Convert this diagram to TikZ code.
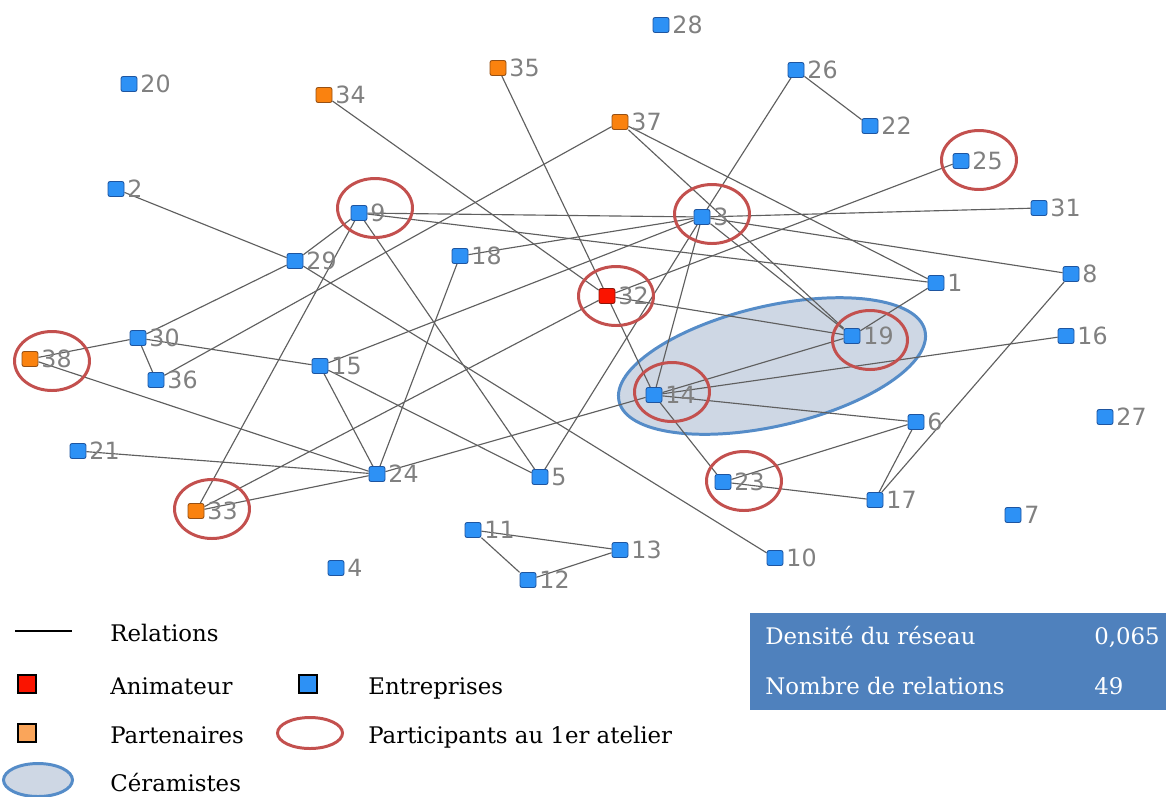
\documentclass[tikz,border=0pt]{standalone}
\usepackage{fontspec}
\setmainfont{DejaVu Serif}
\newfontfamily\numfont{DejaVu Sans}
\usepackage{tikz}
\usetikzlibrary{shapes.geometric,positioning}
\definecolor{firmblue}{RGB}{45,145,245}
\definecolor{firmedge}{RGB}{30,85,160}
\definecolor{partorange}{RGB}{250,130,15}
\definecolor{partedge}{RGB}{150,80,20}
\definecolor{animred}{RGB}{250,20,0}
\definecolor{animedge}{RGB}{140,20,10}
\definecolor{keyorange}{RGB}{250,165,90}
\definecolor{numgray}{RGB}{128,128,128}
\definecolor{relgray}{RGB}{95,95,95}
\definecolor{ringred}{RGB}{195,80,78}
\definecolor{ceramedge}{RGB}{85,140,200}
\definecolor{ceramfill}{RGB}{206,215,228}
\definecolor{statblue}{RGB}{79,129,189}
\pgfdeclarelayer{background}
\pgfsetlayers{background,main}
\tikzset{%
	firm/.style     = {draw=firmedge, fill=firmblue, rectangle, rounded corners=1.2pt, minimum width=0.32cm, minimum height=0.3cm, inner sep=0pt, line width=0.5pt}, % Entreprise
	partner/.style  = {firm, fill=partorange, draw=partedge}, % Partenaire
	animator/.style = {firm, fill=animred, draw=animedge}, % Animateur
	num/.style      = {font=\numfont\fontsize{13.5}{13.5}\selectfont, text=numgray, inner sep=1.5pt},
	rel/.style      = {draw=relgray, line width=0.65pt}, % Relation
	ring/.style     = {draw=ringred, ellipse, line width=1.7pt, minimum width=1.5cm, minimum height=1.18cm},
	ceram/.style    = {draw=ceramedge, fill=ceramfill, ellipse, line width=1.7pt, minimum width=6.28cm, minimum height=2.4cm},
	keybox/.style   = {draw=black, rectangle, minimum size=0.36cm, inner sep=0pt, line width=0.7pt},
	legtext/.style  = {anchor=base west, inner sep=0pt, font=\fontsize{13}{15}\selectfont},
	stattext/.style = {legtext, text=white},
}

\begin{document}
\begin{tikzpicture}[x=0.02cm, y=-0.02cm]
	\useasboundingbox (0,0) rectangle (1166,796);
	
	\begin{pgfonlayer}{background}
		\node[ceram, rotate=13] (cer) at (772,366) {};
	\end{pgfonlayer}
	
	% acteurs
	\node[firm, label={[num]right:1}] (n1) at (936,283) {};
	\node[firm, label={[num]right:2}] (n2) at (116,189) {};
	\node[firm, label={[num]right:3}] (n3) at (702,217) {};
	\node[firm, label={[num]right:4}] (n4) at (336,568) {};
	\node[firm, label={[num]right:5}] (n5) at (540,477) {};
	\node[firm, label={[num]right:6}] (n6) at (916,422) {};
	\node[firm, label={[num]right:7}] (n7) at (1013,515) {};
	\node[firm, label={[num]right:8}] (n8) at (1071,274) {};
	\node[firm, label={[num]right:9}] (n9) at (359,213) {};
	\node[firm, label={[num]right:10}] (n10) at (775,558) {};
	\node[firm, label={[num]right:11}] (n11) at (473,530) {};
	\node[firm, label={[num]right:12}] (n12) at (528,580) {};
	\node[firm, label={[num]right:13}] (n13) at (620,550) {};
	\node[firm, label={[num]right:14}] (n14) at (654,395) {};
	\node[firm, label={[num]right:15}] (n15) at (320,366) {};
	\node[firm, label={[num]right:16}] (n16) at (1066,336) {};
	\node[firm, label={[num]right:17}] (n17) at (875,500) {};
	\node[firm, label={[num]right:18}] (n18) at (460,256) {};
	\node[firm, label={[num]right:19}] (n19) at (852,336) {};
	\node[firm, label={[num]right:20}] (n20) at (129,84) {};
	\node[firm, label={[num]right:21}] (n21) at (78,451) {};
	\node[firm, label={[num]right:22}] (n22) at (870,126) {};
	\node[firm, label={[num]right:23}] (n23) at (723,482) {};
	\node[firm, label={[num]right:24}] (n24) at (377,474) {};
	\node[firm, label={[num]right:25}] (n25) at (961,161) {};
	\node[firm, label={[num]right:26}] (n26) at (796,70) {};
	\node[firm, label={[num]right:27}] (n27) at (1105,417) {};
	\node[firm, label={[num]right:28}] (n28) at (661,25) {};
	\node[firm, label={[num]right:29}] (n29) at (295,261) {};
	\node[firm, label={[num]right:30}] (n30) at (138,338) {};
	\node[firm, label={[num]right:31}] (n31) at (1039,208) {};
	\node[animator, label={[num]right:32}] (n32) at (607,296) {};
	\node[partner, label={[num]right:33}] (n33) at (196,511) {};
	\node[partner, label={[num]right:34}] (n34) at (324,95) {};
	\node[partner, label={[num]right:35}] (n35) at (498,68) {};
	\node[firm, label={[num]right:36}] (n36) at (156,380) {};
	\node[partner, label={[num]right:37}] (n37) at (620,122) {};
	\node[partner, label={[num]right:38}] (n38) at (30,359) {};
	
	% participants au 1er atelier
	\node[ring] (r9) at (375,208) {};
	\node[ring] (r3) at (712,214) {};
	\node[ring] (r25) at (979,160) {};
	\node[ring] (r32) at (616,296) {};
	\node[ring] (r38) at (52,361) {};
	\node[ring] (r19) at (870,340) {};
	\node[ring] (r14) at (672,392) {};
	\node[ring] (r23) at (744,481) {};
	\node[ring] (r33) at (212,509) {};
	
	\begin{pgfonlayer}{background}
		\draw[rel] (n2) -- (n29);
		\draw[rel] (n29) -- (n9);
		\draw[rel] (n29) -- (n30);
		\draw[rel] (n29) -- (n10);
		\draw[rel] (n34) -- (n32);
		\draw[rel] (n35) -- (n32);
		\draw[rel] (n37) -- (n36);
		\draw[rel] (n37) -- (n1);
		\draw[rel] (n37) -- (n19);
		\draw[rel] (n26) -- (n3);
		\draw[rel] (n26) -- (n22);
		\draw[rel] (n9) -- (n3);
		\draw[rel] (n9) -- (n1);
		\draw[rel] (n9) -- (n5);
		\draw[rel] (n9) -- (n33);
		\draw[rel] (n3) -- (n31);
		\draw[rel] (n3) -- (n8);
		\draw[rel] (n3) -- (n19);
		\draw[rel] (n3) -- (n18);
		\draw[rel] (n3) -- (n14);
		\draw[rel] (n3) -- (n5);
		\draw[rel] (n3) -- (n15);
		\draw[rel] (n25) -- (n32);
		\draw[rel] (n32) -- (n33);
		\draw[rel] (n32) -- (n14);
		\draw[rel] (n32) -- (n19);
		\draw[rel] (n1) -- (n19);
		\draw[rel] (n30) -- (n38);
		\draw[rel] (n30) -- (n36);
		\draw[rel] (n30) -- (n15);
		\draw[rel] (n38) -- (n24);
		\draw[rel] (n21) -- (n24);
		\draw[rel] (n33) -- (n24);
		\draw[rel] (n15) -- (n24);
		\draw[rel] (n15) -- (n5);
		\draw[rel] (n18) -- (n24);
		\draw[rel] (n24) -- (n14);
		\draw[rel] (n14) -- (n23);
		\draw[rel] (n14) -- (n19);
		\draw[rel] (n14) -- (n16);
		\draw[rel] (n14) -- (n6);
		\draw[rel] (n23) -- (n6);
		\draw[rel] (n23) -- (n17);
		\draw[rel] (n6) -- (n17);
		\draw[rel] (n8) -- (n17);
		\draw[rel] (n11) -- (n13);
		\draw[rel] (n11) -- (n12);
		\draw[rel] (n12) -- (n13);
	\end{pgfonlayer}
	
	% legende
	\coordinate (relA) at (15,631);
	\coordinate (relB) at (72,631);
	\draw[line width=0.7pt] (relA) -- (relB);
	\node[legtext] (tRel) at (110,641) {Relations};
	\node[keybox, fill=animred] (kAnim) at (27,684) {};
	\node[legtext] (tAnim) at (110,694) {Animateur};
	\node[keybox, fill=firmblue] (kFirm) at (308,684) {};
	\node[legtext] (tFirm) at (368,694) {Entreprises};
	\node[keybox, fill=keyorange] (kPart) at (27,733) {};
	\node[legtext] (tPart) at (110,743) {Partenaires};
	\node[ring, minimum width=1.3cm, minimum height=0.62cm] (kRing) at (310,733) {};
	\node[legtext] (tRing) at (368,743) {Participants au 1er atelier};
	\node[ceram, minimum width=1.38cm, minimum height=0.66cm] (kCer) at (38,780) {};
	\node[legtext] (tCer) at (110,791) {Céramistes};
	
	% indicateurs
	\node[fill=statblue, anchor=north west, inner sep=0pt, minimum width=8.32cm, minimum height=1.94cm] (stat) at (750,613) {};
	\node[stattext] (tDens) at (765,644) {Densité du réseau};
	\node[stattext] (vDens) at (1094,644) {0,065};
	\node[stattext] (tNb) at (765,694) {Nombre de relations};
	\node[stattext] (vNb) at (1094,694) {49};
\end{tikzpicture}
\end{document}
